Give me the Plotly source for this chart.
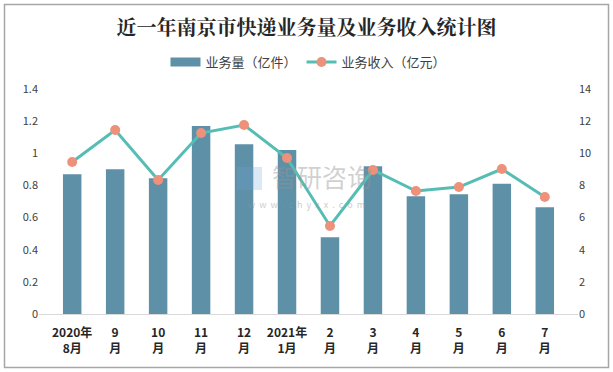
import plotly.graph_objects as go

categories = ["2020年<br>8月", "9<br>月", "10<br>月", "11<br>月", "12<br>月", "2021年<br>1月",
              "2<br>月", "3<br>月", "4<br>月", "5<br>月", "6<br>月", "7<br>月"]
volume = [0.87, 0.90, 0.845, 1.17, 1.056, 1.02, 0.477, 0.92, 0.732, 0.745, 0.811, 0.664]
revenue = [9.46, 11.45, 8.34, 11.26, 11.76, 9.71, 5.48, 8.96, 7.65, 7.90, 9.02, 7.28]
left_ticks = [0, 0.2, 0.4, 0.6, 0.8, 1, 1.2, 1.4]
right_ticks = [0, 2, 4, 6, 8, 10, 12, 14]

W, H = 613, 372
ML, MR, MT, MB = 39, 35, 89, 58
pw, ph = W - ML - MR, H - MT - MB

BAR_COLOR = "#5E90A8"

fig = go.Figure()
fig.add_trace(go.Bar(
    x=categories, y=volume, name="业务量（亿件）",
    marker=dict(color=BAR_COLOR, line=dict(width=0)),
    width=0.43, yaxis="y", showlegend=False, legendgroup="vol",
))
# legend swatch for the bars (wide rectangle like the original)
fig.add_trace(go.Scatter(
    x=[None], y=[None], name="业务量（亿件）", mode="lines",
    line=dict(color=BAR_COLOR, width=9), legendgroup="vol", hoverinfo="skip",
))
fig.add_trace(go.Scatter(
    x=categories, y=revenue, name="业务收入（亿元）",
    mode="lines+markers",
    line=dict(color="#56BDB4", width=3),
    marker=dict(color="#EE917A", size=10),
    yaxis="y2",
))

font_family = "Noto Sans CJK SC, Noto Sans, sans-serif"

fig.update_layout(
    width=W, height=H,
    margin=dict(l=ML, r=MR, t=MT, b=MB, autoexpand=False),
    paper_bgcolor="white", plot_bgcolor="white",
    font=dict(family=font_family, color="#404040", size=11),
    title=dict(text="<b>近一年南京市快递业务量及业务收入统计图</b>",
               x=0.5, xanchor="center", y=1 - 28 / H, yanchor="middle",
               font=dict(size=20, color="#262626", family="Noto Serif CJK SC, Noto Sans CJK SC, serif")),
    legend=dict(orientation="h", x=0.5, xanchor="center", y=1 + 27 / ph, yanchor="middle",
                font=dict(size=13, color="#404040"), itemwidth=30, bgcolor="rgba(0,0,0,0)",
                traceorder="normal"),
    showlegend=True,
    bargap=0.5,
    xaxis=dict(showgrid=False, showline=True, linecolor="#D9D9D9", linewidth=1,
               ticks="", tickfont=dict(size=12, color="#262626"), automargin=False,
               tickprefix="<b>", ticksuffix="</b>", tickangle=0, ticklabelstandoff=8),
    yaxis=dict(range=[0, 1.4], tickvals=left_ticks, ticktext=[str(t) for t in left_ticks],
               showgrid=False, zeroline=False, ticks="", automargin=False,
               tickfont=dict(size=11, color="#404040")),
    yaxis2=dict(range=[0, 14], tickvals=right_ticks, overlaying="y", side="right",
                showgrid=False, zeroline=False, ticks="", automargin=False,
                tickfont=dict(size=11, color="#404040")),
)

# outer border
fig.add_shape(type="rect", xref="paper", yref="paper",
              x0=(4.5 - ML) / pw, x1=(608.5 - ML) / pw,
              y0=(H - 367.5 - MB) / ph, y1=(H - 4.5 - MB) / ph,
              line=dict(color="#A6A6A6", width=1.5), fillcolor="rgba(0,0,0,0)", layer="below")

# watermark (logo block + text)
fig.add_shape(type="rect", xref="paper", yref="paper",
              x0=(237 - ML) / pw, x1=(262 - ML) / pw,
              y0=(H - 190 - MB) / ph, y1=(H - 167 - MB) / ph,
              line=dict(width=0), fillcolor="rgba(110,165,215,0.25)", layer="above")
fig.add_annotation(xref="paper", yref="paper", x=(322 - ML) / pw, y=(H - 176 - MB) / ph,
                   text="智研咨询", showarrow=False,
                   font=dict(size=25, color="rgba(150,150,150,0.45)", family=font_family))
fig.add_annotation(xref="paper", yref="paper", x=(306 - ML) / pw, y=(H - 204 - MB) / ph,
                   text="w  w  w  .  c  h  y  x  x  .  c  o  m", showarrow=False,
                   font=dict(size=9, color="rgba(150,150,150,0.5)", family=font_family))

fig.write_html("out.html", config={"displayModeBar": False},
               post_script="document.body.style.margin='0';document.body.style.overflow='hidden';")
